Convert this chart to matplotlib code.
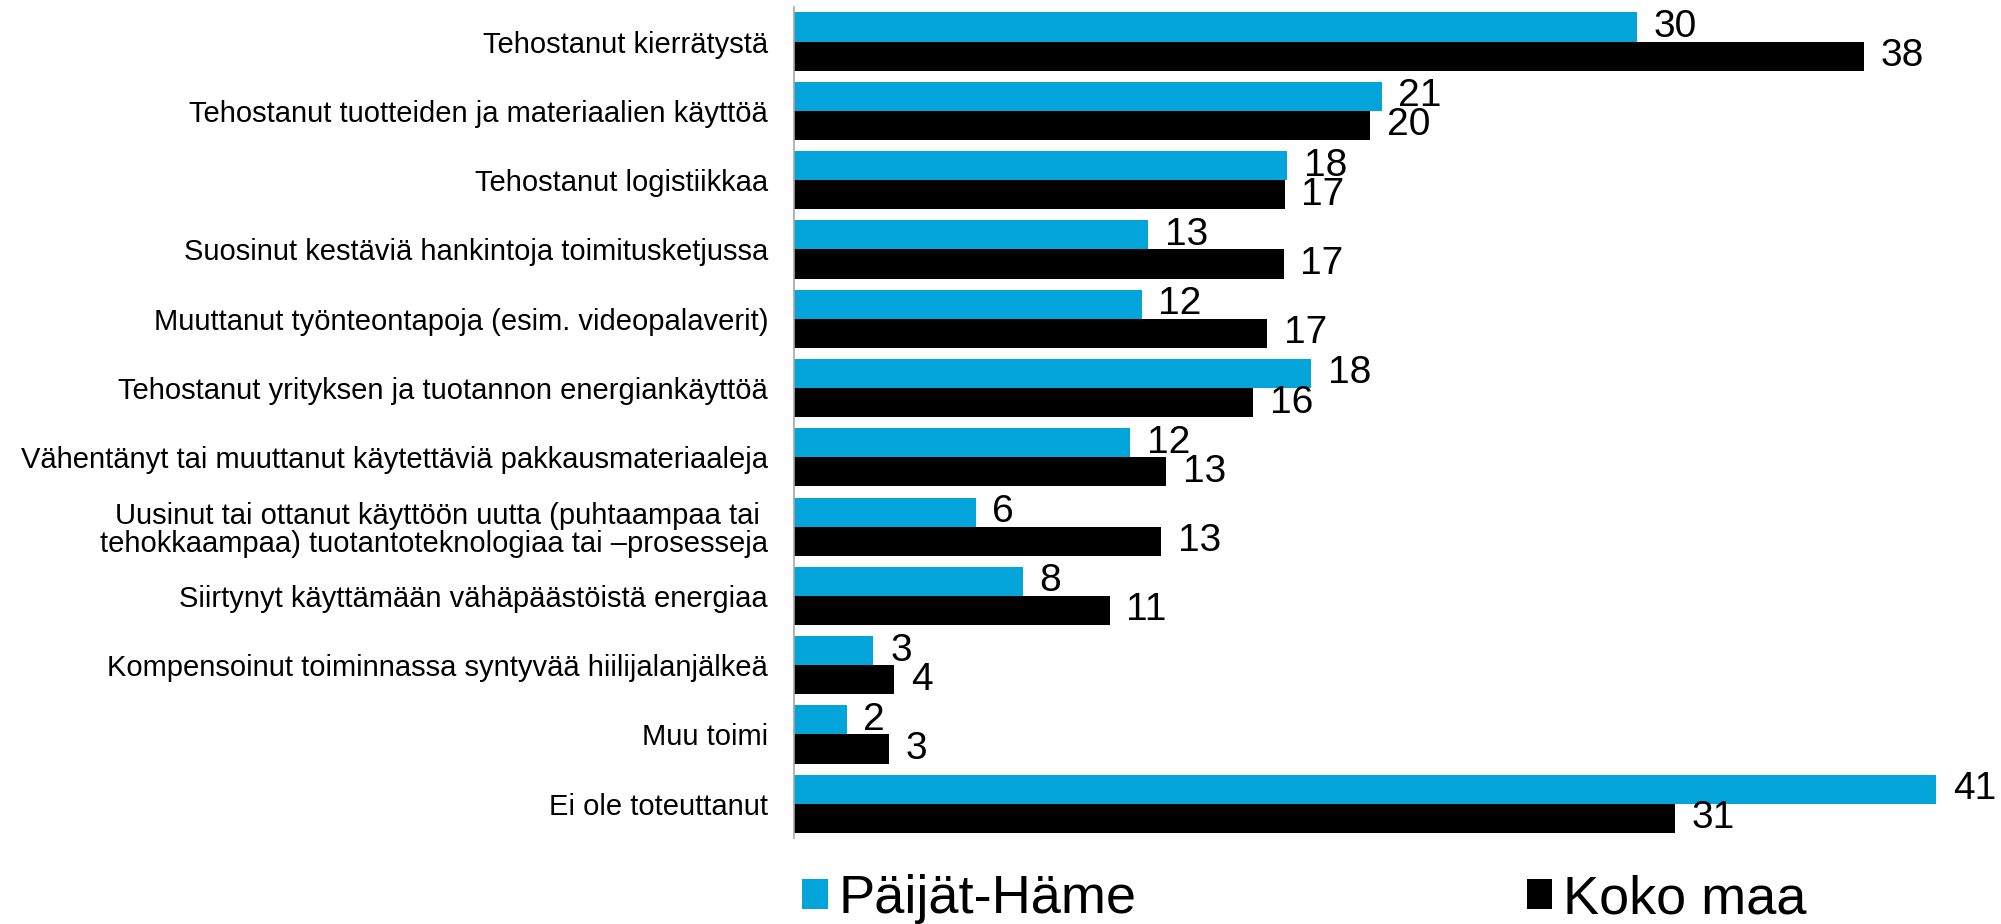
import matplotlib
matplotlib.use("Agg")
import matplotlib.pyplot as plt
import numpy as np

plt.rcParams['font.family'] = ['Liberation Sans', 'DejaVu Sans']

# categories, top to bottom
categories = [
    "Tehostanut kierrätystä",
    "Tehostanut tuotteiden ja materiaalien käyttöä",
    "Tehostanut logistiikkaa",
    "Suosinut kestäviä hankintoja toimitusketjussa",
    "Muuttanut työnteontapoja (esim. videopalaverit)",
    "Tehostanut yrityksen ja tuotannon energiankäyttöä",
    "Vähentänyt tai muuttanut käytettäviä pakkausmateriaaleja",
    "Uusinut tai ottanut käyttöön uutta (puhtaampaa tai \ntehokkaampaa) tuotantoteknologiaa tai –prosesseja",
    "Siirtynyt käyttämään vähäpäästöistä energiaa",
    "Kompensoinut toiminnassa syntyvää hiilijalanjälkeä",
    "Muu toimi",
    "Ei ole toteuttanut",
]
paijat_hame = [29.96, 20.88, 17.52, 12.57, 12.35, 18.38, 11.94, 6.45, 8.13, 2.81, 1.86, 40.6]
koko_maa = [38.04, 20.47, 17.43, 17.39, 16.8, 16.3, 13.21, 13.03, 11.21, 3.55, 3.36, 31.3]
series_names = ["Päijät-Häme", "Koko maa"]

blue = "#02A4DA"
black = "#000000"

fig = plt.figure(figsize=(20.01, 9.24), dpi=100)
ax = fig.add_axes([0.397, 0.0926, 0.603, 0.8999])

y = np.arange(len(categories))
h = 0.42
b1 = ax.barh(y - h / 2, paijat_hame, height=h, color=blue, label=series_names[0])
b2 = ax.barh(y + h / 2, koko_maa, height=h, color=black, label=series_names[1])

ax.bar_label(b1, fmt="%.0f", padding=12, fontsize=28)
ax.bar_label(b2, fmt="%.0f", padding=12, fontsize=28)

ax.set_ylim(11.5, -0.5)
ax.set_xlim(0, 42.9)
ax.set_yticks(y)
ax.set_yticklabels(categories, fontsize=21, linespacing=1.0)
ax.tick_params(axis="y", length=0, pad=19)
ax.set_xticks([])

for s in ["top", "right", "bottom"]:
    ax.spines[s].set_visible(False)
ax.spines["left"].set_color("#A6A6A6")
ax.spines["left"].set_linewidth(1.2)

fig.legend(handles=[b1, b2], labels=series_names, loc="center left",
           bbox_to_anchor=(0.401, 0.027), ncol=2, frameon=False,
           fontsize=39, handlelength=0.47, handleheight=0.47,
           handletextpad=0.2, columnspacing=7.2, borderpad=0, borderaxespad=0)

fig.savefig("out.png", dpi=100)
